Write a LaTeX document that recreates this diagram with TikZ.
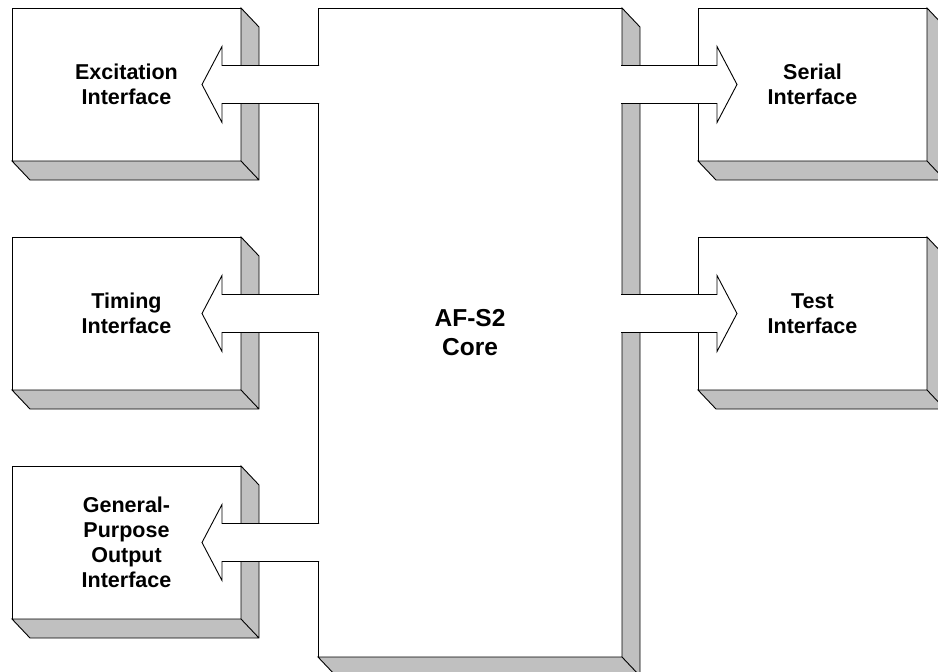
\documentclass[tikz,border=0pt]{standalone}
\usepackage{fontspec}
\setmainfont{Liberation Sans}
\usepackage{tikz}
\usetikzlibrary{calc}

\definecolor{shadegray}{RGB}{192,192,192}

\begin{document}
\begin{tikzpicture}[x=1pt, y=-1pt, line width=0.9pt,
    ifbox/.style={draw=black, fill=white, minimum width=229pt, minimum height=153pt,
      inner sep=0pt, outer sep=0pt, align=center,
      font=\fontsize{21.5}{25}\selectfont\bfseries},
    corebox/.style={ifbox, minimum width=304pt, minimum height=649pt,
      font=\fontsize{24.5}{29}\selectfont\bfseries},
    shadow3d/.style={draw=black, fill=shadegray},
    blockarrow/.style={draw=black, fill=white, line join=miter}]
  \useasboundingbox (0,0) rectangle (938,672);

  % interface blocks and core
  \node[ifbox] (exc) at (126.5, 84.5) {Excitation\\Interface};
  \node[ifbox] (tim) at (126.5, 313.5) {Timing\\Interface};
  \node[ifbox] (gpo) at (126.5, 542.5) {General-\\Purpose\\Output\\Interface};
  \node[corebox] (core) at (470, 332.5) {AF-S2\\Core};
  \node[ifbox] (ser) at (812.5, 84.5) {Serial\\Interface};
  \node[ifbox] (tst) at (812.5, 313.5) {Test\\Interface};

  % extruded sides
  \filldraw[shadow3d] (exc.north east) -- ++(18,19) |- ($(exc.south west)+(18,19)$)
    -- (exc.south west) -- (exc.south east) -- cycle (exc.south east) -- ++(18,19);
  \filldraw[shadow3d] (tim.north east) -- ++(18,19) |- ($(tim.south west)+(18,19)$)
    -- (tim.south west) -- (tim.south east) -- cycle (tim.south east) -- ++(18,19);
  \filldraw[shadow3d] (gpo.north east) -- ++(18,19) |- ($(gpo.south west)+(18,19)$)
    -- (gpo.south west) -- (gpo.south east) -- cycle (gpo.south east) -- ++(18,19);
  \filldraw[shadow3d] (core.north east) -- ++(18,19) |- ($(core.south west)+(18,19)$)
    -- (core.south west) -- (core.south east) -- cycle (core.south east) -- ++(18,19);
  \filldraw[shadow3d] (ser.north east) -- ++(18,19) |- ($(ser.south west)+(18,19)$)
    -- (ser.south west) -- (ser.south east) -- cycle (ser.south east) -- ++(18,19);
  \filldraw[shadow3d] (tst.north east) -- ++(18,19) |- ($(tst.south west)+(18,19)$)
    -- (tst.south west) -- (tst.south east) -- cycle (tst.south east) -- ++(18,19);

  % block arrows out of the core
  \filldraw[blockarrow] ($(core.west |- exc.east)+(1,-19)$) -- ($(exc.east)+(-19,-19)$)
    -- ++(0,-19) -- ($(exc.east)+(-39,0)$) -- ($(exc.east)+(-19,38)$) -- ++(0,-19)
    -- ($(core.west |- exc.east)+(1,19)$);
  \filldraw[blockarrow] ($(core.west |- tim.east)+(1,-19)$) -- ($(tim.east)+(-19,-19)$)
    -- ++(0,-19) -- ($(tim.east)+(-39,0)$) -- ($(tim.east)+(-19,38)$) -- ++(0,-19)
    -- ($(core.west |- tim.east)+(1,19)$);
  \filldraw[blockarrow] ($(core.west |- gpo.east)+(1,-19)$) -- ($(gpo.east)+(-19,-19)$)
    -- ++(0,-19) -- ($(gpo.east)+(-39,0)$) -- ($(gpo.east)+(-19,38)$) -- ++(0,-19)
    -- ($(core.west |- gpo.east)+(1,19)$);
  \filldraw[blockarrow] ($(core.east |- ser.west)+(-1,-19)$) -- ($(ser.west)+(19,-19)$)
    -- ++(0,-19) -- ($(ser.west)+(39,0)$) -- ($(ser.west)+(19,38)$) -- ++(0,-19)
    -- ($(core.east |- ser.west)+(-1,19)$);
  \filldraw[blockarrow] ($(core.east |- tst.west)+(-1,-19)$) -- ($(tst.west)+(19,-19)$)
    -- ++(0,-19) -- ($(tst.west)+(39,0)$) -- ($(tst.west)+(19,38)$) -- ++(0,-19)
    -- ($(core.east |- tst.west)+(-1,19)$);
\end{tikzpicture}
\end{document}
